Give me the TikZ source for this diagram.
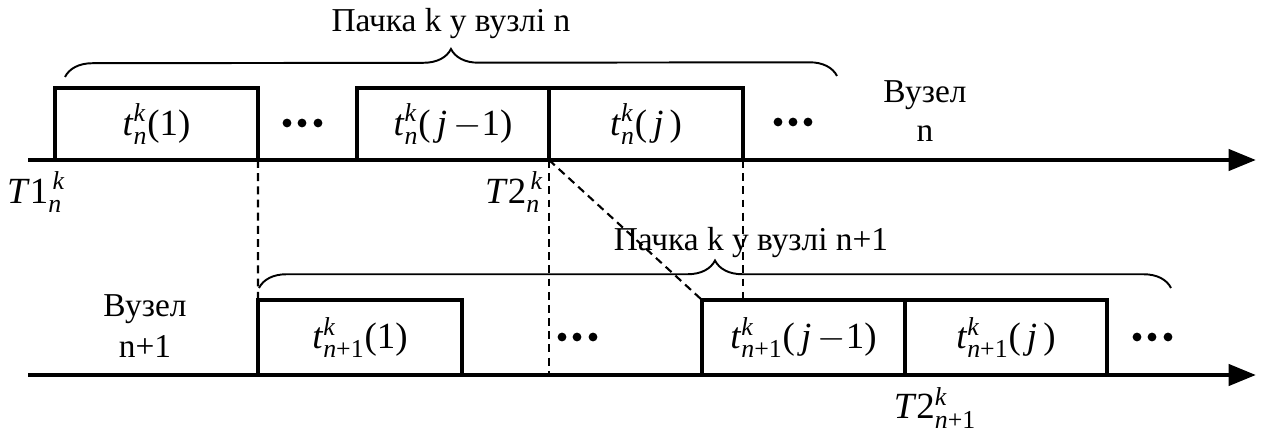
\documentclass[tikz,border=0pt]{standalone}
\usepackage{amsmath}
\usepackage{fontspec}
\setmainfont{Liberation Serif}
\usetikzlibrary{arrows.meta, decorations.pathreplacing, calc}
% italic letter with sub/sup in the text font
\newcommand{\tsym}[3]{#1$^{\textit{#3}}_{#2}$}

\begin{document}
\begin{tikzpicture}[
    x=0.02cm, y=-0.02cm,
    every node/.style={font=\fontsize{19}{22}\selectfont},
    axis/.style={line width=2.6pt, -{Triangle[length=0.55cm, width=0.42cm]}},
    slot/.style={draw, line width=2.2pt, outer sep=0pt, inner sep=0pt, anchor=south west, font=\fontsize{21}{23}\selectfont},
    guide/.style={line width=1.2pt, dash pattern=on 4.5pt off 3pt},
    brc/.style={decorate, decoration={brace, amplitude=0.55cm}, line width=1.1pt},
    lbl/.style={align=center},
    tm/.style={font=\fontsize{21}{23}\selectfont},
]
\useasboundingbox (0,0) rectangle (1262,432);

% Axes
\coordinate (axN0) at (28,160);
\coordinate (axN1) at (1256,160);
\coordinate (axB0) at (28,375);
\coordinate (axB1) at (1256,375);

% Node n: packets
\node[slot, minimum width=4.06cm, minimum height=1.44cm] (a1) at (55,160) {\tsym{\textit{t}}{\textit{n}}{k}(1)};
\node[slot, minimum width=3.84cm, minimum height=1.44cm] (a2) at (357,160) {\tsym{\textit{t}}{\textit{n}}{k}(\,\textit{j}\,$-$1)};
\node[slot, minimum width=3.88cm, minimum height=1.44cm] (a3) at (549,160) {\tsym{\textit{t}}{\textit{n}}{k}(\,\textit{j}\,)};

% Node n+1: packets
\node[slot, minimum width=4.08cm, minimum height=1.5cm] (b1) at (258,375) {\tsym{\textit{t}}{\textit{n}\textrm{+1}}{k}(1)};
\node[slot, minimum width=4.06cm, minimum height=1.5cm] (b2) at (702,375) {\tsym{\textit{t}}{\textit{n}\textrm{+1}}{k}(\,\textit{j}\,$-$1)};
\node[slot, minimum width=4.04cm, minimum height=1.5cm] (b3) at (905,375) {\tsym{\textit{t}}{\textit{n}\textrm{+1}}{k}(\,\textit{j}\,)};

\draw[axis] (axN0) -- (axN1);
\draw[axis] (axB0) -- (axB1);

% Dots
\foreach \x/\y in {287/123, 302/123, 318/123, 778/122, 793/122, 808/122,
                   562/337, 577/337, 593/337, 1137/337, 1152/337, 1168/337}
    \fill (\x,\y) circle (2.5pt);

% Labels
\node[lbl] (nodeN) at (925,111) {Вузел\\n};
\node[lbl, font=\fontsize{19}{23}\selectfont] (nodeN1) at (145,326) {Вузел\\n+1};
\node[tm] (T1n) at (36,192) {\tsym{\textit{T}1}{\textit{n}}{\,k}};
\node[tm] (T2n) at (514,192) {\tsym{\textit{T}2}{\textit{n}}{\,k}};
\node[tm] (T2n1) at (935,408) {\tsym{\textit{T}2}{\textit{n}\textrm{+1}}{k}};

% Dashed guides
\draw[guide] (a1.south east) -- (b1.north west);
\draw[guide] (a3.south west) -- (a3.south west |- axB0);
\draw[guide] (a3.south east) -- (a3.south east |- b2.north);
\draw[guide] (a3.south west) -- (b2.north west);

% Braces
\draw[brc] (65,77) -- (837,76)
    node[midway, yshift=1.06cm] (burstN) {Пачка k у вузлі n};
\draw[brc] (259,288) -- (1171,288)
    node[midway, xshift=0.72cm, yshift=0.9cm] (burstN1) {Пачка k у вузлі n+1};

\end{tikzpicture}
\end{document}
